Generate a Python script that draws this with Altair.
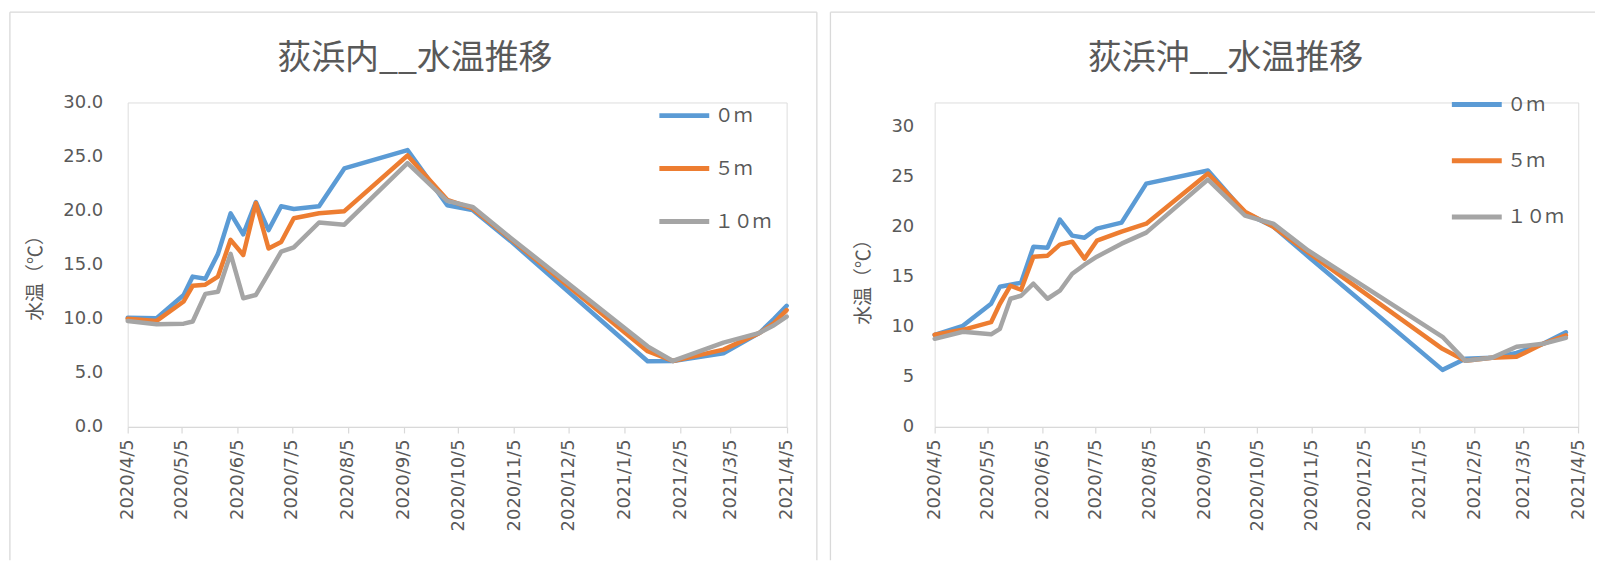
import altair as alt
import pandas as pd

FONT = "Noto Sans CJK JP"
NUM_FONT = "DejaVu Sans"
TEXT = "#595959"
LINE_GRAY = "#D9D9D9"

SERIES = ["０ｍ", "５ｍ", "１０ｍ"]
COLORS = ["#5B9BD5", "#ED7D31", "#A5A5A5"]

X_TICKS = [(2020, m) for m in range(4, 13)] + [(2021, m) for m in range(1, 5)]

# 荻浜内
LEFT_DATES = ["2020-04-05", "2020-04-21", "2020-05-06", "2020-05-11", "2020-05-18",
              "2020-05-25", "2020-06-01", "2020-06-08", "2020-06-15", "2020-06-22",
              "2020-06-29", "2020-07-06", "2020-07-20", "2020-08-03", "2020-09-07",
              "2020-09-29", "2020-10-13", "2020-11-03", "2021-01-18", "2021-02-01",
              "2021-03-01", "2021-03-21", "2021-03-29", "2021-04-05"]
LEFT_0M = [10.1, 10.05, 12.2, 13.9, 13.7, 16.0, 19.75, 17.8, 20.8, 18.2, 20.4, 20.15,
           20.4, 23.9, 25.6, 20.5, 20.05, 17.2, 6.07, 6.1, 6.8, 8.7, 10.0, 11.2]
LEFT_5M = [10.0, 9.8, 11.6, 13.05, 13.15, 13.9, 17.3, 15.9, 20.7, 16.5, 17.1, 19.3,
           19.75, 19.95, 25.1, 21.0, 20.2, 17.4, 7.0, 6.1, 7.15, 8.7, 9.6, 10.8]
LEFT_10M = [9.8, 9.5, 9.55, 9.75, 12.3, 12.5, 16.0, 11.9, 12.2, 14.2, 16.2, 16.6,
            18.9, 18.7, 24.4, 20.9, 20.35, 17.5, 7.45, 6.1, 7.8, 8.7, 9.4, 10.2]

# 荻浜沖
RIGHT_DATES = ["2020-04-05", "2020-04-21", "2020-05-07", "2020-05-12", "2020-05-18",
               "2020-05-24", "2020-05-31", "2020-06-08", "2020-06-15", "2020-06-22",
               "2020-06-29", "2020-07-06", "2020-07-20", "2020-08-03", "2020-09-07",
               "2020-09-28", "2020-10-14", "2020-11-03", "2021-01-18", "2021-01-31",
               "2021-02-15", "2021-03-01", "2021-03-16", "2021-03-29"]
RIGHT_0M = [9.2, 10.1, 12.3, 14.0, 14.2, 14.4, 18.0, 17.9, 20.7, 19.1, 18.9, 19.8,
            20.4, 24.3, 25.6, 21.4, 20.0, 17.0, 5.7, 6.8, 6.9, 7.4, 8.3, 9.45]
RIGHT_5M = [9.2, 9.7, 10.46, 12.3, 14.1, 13.7, 17.0, 17.1, 18.2, 18.5, 16.8, 18.6,
            19.5, 20.3, 25.3, 21.5, 20.0, 17.4, 7.8, 6.6, 6.9, 7.0, 8.3, 9.15]
RIGHT_10M = [8.8, 9.5, 9.25, 9.8, 12.8, 13.1, 14.3, 12.8, 13.6, 15.3, 16.2, 17.0,
             18.3, 19.4, 24.7, 21.1, 20.3, 17.6, 9.0, 6.6, 6.9, 8.0, 8.3, 8.9]

Y_TICKS = [0, 5, 10, 15, 20, 25, 30]
Y_TITLE = "水温（℃）"


def long_df(dates, s0, s5, s10):
    rows = []
    for name, vals in zip(SERIES, [s0, s5, s10]):
        for d, v in zip(dates, vals):
            rows.append({"date": d + "T00:00:00", "temp": v, "depth": name})
    return pd.DataFrame(rows)


def dt(y, m, d=5):
    return alt.DateTime(year=y, month=m, date=d)


def panel(df, title, title_xy, width, height, ymax, yfmt, label_pad, ytitle_xy,
          leg_xy, leg_pad, frame):
    left, top, right, bottom, draw_right = frame
    x = alt.X(
        "date:T",
        scale=alt.Scale(domain=[dt(2020, 4), dt(2021, 4)], nice=False),
        axis=alt.Axis(
            values=[dt(y, m) for y, m in X_TICKS],
            format="%Y/%-m/%-d", formatType="time",
            labelAngle=270, labelFontSize=18, labelColor=TEXT, labelFont=NUM_FONT,
            labelPadding=6, labelFlush=False, labelOverlap=False, labelBound=False,
            domainColor=LINE_GRAY, domainWidth=1.2, tickColor=LINE_GRAY, tickWidth=1.2,
            tickSize=6, grid=False, title=None,
        ),
    )
    y = alt.Y(
        "temp:Q",
        scale=alt.Scale(domain=[0, ymax], nice=False, zero=True),
        axis=alt.Axis(
            values=Y_TICKS, format=yfmt, labelFontSize=18, labelColor=TEXT,
            labelFont=NUM_FONT, labelPadding=label_pad, domain=False, ticks=False,
            grid=False, title=None,
        ),
    )
    color = alt.Color(
        "depth:N",
        scale=alt.Scale(domain=SERIES, range=COLORS),
        sort=SERIES,
        legend=alt.Legend(
            orient="none", legendX=leg_xy[0], legendY=leg_xy[1], direction="vertical",
            title=None, symbolType="stroke", symbolSize=2500, symbolStrokeWidth=5,
            labelFontSize=19, labelColor=TEXT, labelFont=FONT, labelOffset=3,
            rowPadding=leg_pad, padding=0,
        ),
    )
    lines = alt.Chart(df).mark_line(
        strokeWidth=4.5, strokeJoin="round", strokeCap="round"
    ).encode(x=x, y=y, color=color, order="date:T")

    src = alt.Data(values=[{"k": 0}])
    rule_kw = dict(color=LINE_GRAY, strokeWidth=1.3)
    layers = [
        alt.Chart(src).mark_rule(**rule_kw).encode(
            x=alt.value(left), y=alt.value(top), y2=alt.value(bottom)),
        alt.Chart(src).mark_rule(**rule_kw).encode(
            x=alt.value(left), x2=alt.value(right), y=alt.value(top)),
    ]
    if draw_right:
        layers.append(alt.Chart(src).mark_rule(**rule_kw).encode(
            x=alt.value(right), y=alt.value(top), y2=alt.value(bottom)))
    # chart title
    layers.append(
        alt.Chart(src).mark_text(
            font=FONT, fontSize=34, color=TEXT, align="center", baseline="middle"
        ).encode(x=alt.value(title_xy[0]), y=alt.value(title_xy[1]),
                 text=alt.value(title))
    )
    # y-axis title
    layers.append(
        alt.Chart(src).mark_text(
            font=FONT, fontSize=19, color=TEXT, align="center", baseline="middle",
            angle=270
        ).encode(x=alt.value(ytitle_xy[0]), y=alt.value(ytitle_xy[1]),
                 text=alt.value(Y_TITLE))
    )
    layers.append(lines)
    return alt.layer(*layers).properties(width=width, height=height)


left = panel(long_df(LEFT_DATES, LEFT_0M, LEFT_5M, LEFT_10M), "荻浜内__水温推移",
             (287.9, -43.5), 660.6, 325.3, 30, ".1f", 25, (-91.5, 171.5),
             (530.5, -14.3), 15.1, (-118.1, -90.5, 690.9, 459, True))
right = panel(long_df(RIGHT_DATES, RIGHT_0M, RIGHT_5M, RIGHT_10M), "荻浜沖__水温推移",
              (291.5, -44), 645.2, 325.3, 32.4, "d", 21, (-70.9, 175.5),
              (516, -25.4), 18.4, (-104.5, -90.5, 662, 459, False))

chart = alt.hconcat(left, right, spacing=10).resolve_scale(
    color="independent"
).resolve_legend(color="independent").properties(
    padding={"left": 0, "top": 2, "right": 0, "bottom": 0}
).configure_view(strokeWidth=0).configure(font=FONT)

chart.save("out.html", embed_options={"renderer": "svg", "actions": False})
